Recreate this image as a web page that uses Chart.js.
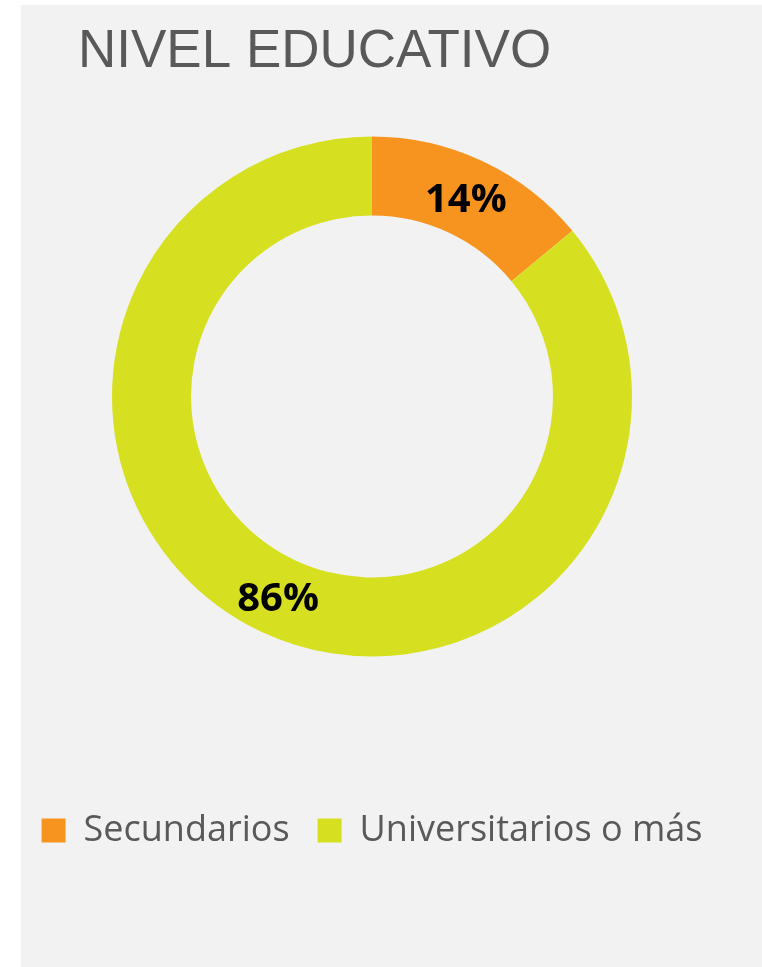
<!DOCTYPE html>
<html>
<head>
<meta charset="utf-8">
<script src="https://cdn.jsdelivr.net/npm/chart.js@4/dist/chart.umd.min.js"></script>
<style>
  html, body { margin: 0; padding: 0; background: #ffffff; }
  #wrap { position: absolute; left: 0; top: 0; width: 762px; height: 967px; }
</style>
</head>
<body>
<div id="wrap"><canvas id="c" width="762" height="967"></canvas></div>
<script>
const chartTitle = 'NIVEL EDUCATIVO';
const categories = ['Secundarios', 'Universitarios o más'];
const values = [14, 86];
const colors = ['#F7941F', '#D6E021'];

const panelPlugin = {
  id: 'panel',
  beforeDraw(chart) {
    const ctx = chart.ctx;
    ctx.save();
    ctx.fillStyle = '#F2F2F2';
    ctx.fillRect(21, 5, 741, 962);
    ctx.fillStyle = '#595959';
    ctx.font = "53px 'Liberation Sans', Arial, sans-serif";
    ctx.textAlign = 'left';
    ctx.textBaseline = 'alphabetic';
    ctx.fillText(chartTitle, 78, 67);
    ctx.restore();
  }
};

const labelPlugin = {
  id: 'sliceLabels',
  afterDatasetsDraw(chart) {
    const ctx = chart.ctx;
    const meta = chart.getDatasetMeta(0);
    ctx.save();
    ctx.fillStyle = '#000000';
    ctx.font = "bold 40px 'Open Sans', sans-serif";
    ctx.textAlign = 'center';
    ctx.textBaseline = 'middle';
    meta.data.forEach((arc, i) => {
      const p = arc.getCenterPoint();
      ctx.fillText(values[i] + '%', p.x, p.y + 4);
    });
    ctx.restore();
  }
};

new Chart(document.getElementById('c'), {
  type: 'doughnut',
  data: {
    labels: categories,
    datasets: [{
      data: values,
      backgroundColor: colors,
      borderWidth: 0,
      radius: 260,
      cutout: '69.6%'
    }]
  },
  options: {
    responsive: false,
    animation: false,
    layout: { padding: { left: 0, right: 18, top: 8.5, bottom: 108.5 } },
    plugins: {
      title: { display: false },
      tooltip: { enabled: false },
      legend: {
        display: true,
        position: 'bottom',
        labels: {
          color: '#595959',
          font: { family: "'Open Sans', sans-serif", size: 36 },
          boxWidth: 24,
          boxHeight: 24,
          padding: 28
        }
      }
    }
  },
  plugins: [panelPlugin, labelPlugin]
});
</script>
</body>
</html>
